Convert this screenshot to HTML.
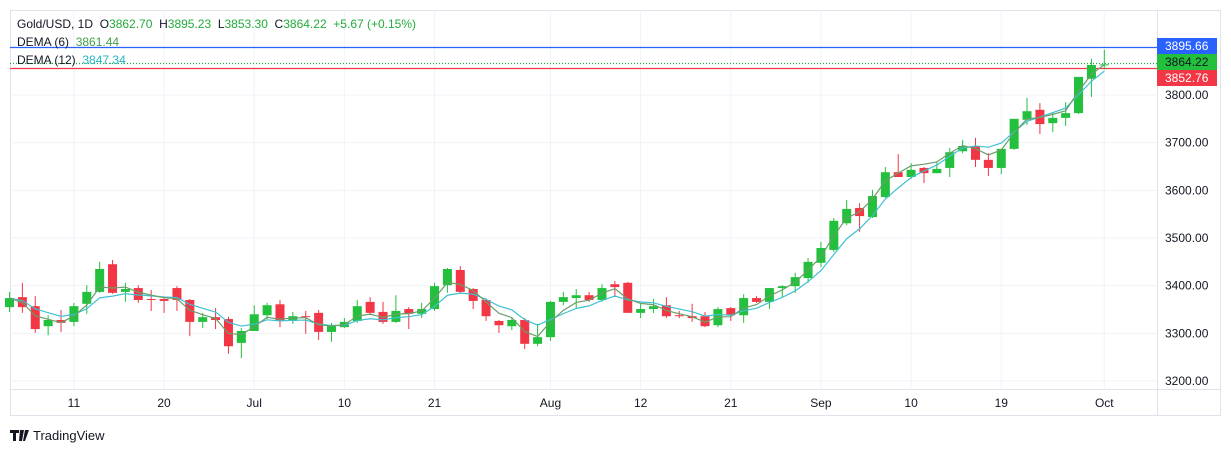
<!DOCTYPE html>
<html><head><meta charset="utf-8">
<style>
body{margin:0;background:#fff;font-family:"Liberation Sans",sans-serif;}
svg text{font-family:"Liberation Sans",sans-serif;white-space:pre;}
</style></head>
<body>
<svg id="chart" width="1231" height="452" xmlns="http://www.w3.org/2000/svg">
<rect x="0" y="0" width="1231" height="452" fill="#fff"/>
<rect x="10.5" y="10.5" width="1210" height="405" fill="none" stroke="#e0e3eb"/>
<g id="grid"></g>
<g id="lines"></g>
<g id="candles"></g>
<g id="ind"></g>
<line x1="1157.5" y1="10" x2="1157.5" y2="416" stroke="#e0e3eb"/>
<line x1="10" y1="389.5" x2="1221" y2="389.5" stroke="#e0e3eb"/>
<g id="yaxis"></g>
<g id="xaxis"></g>
<g id="tags"></g>
<g font-size="12">
<text x="17" y="28" fill="#131722">Gold/USD, 1D  O<tspan fill="#22ab3b">3862.70</tspan>  H<tspan fill="#22ab3b">3895.23</tspan>  L<tspan fill="#22ab3b">3853.30</tspan>  C<tspan fill="#22ab3b">3864.22</tspan>  <tspan fill="#22ab3b">+5.67 (+0.15%)</tspan></text>
<text x="17" y="46" fill="#131722">DEMA (6)  <tspan fill="#43a047">3861.44</tspan></text>
<text x="17" y="64" fill="#131722">DEMA (12)  <tspan fill="#26b6c6">3847.34</tspan></text>
</g>
<g>
<path d="M10 430h9v3h-3v8h-3v-8h-3z M20 430h4l-2 11h-3z M25 430h4l-4 11h-2z" fill="#131722"/>
<text x="33" y="440" font-size="13" fill="#131722">TradingView</text>
</g>
</svg>
<script>
const opens=[3355,3376,3357,3315,3328,3324,3362,3387,3445,3387,3395,3372,3372,3395,3370,3324,3334,3330,3280,3305,3338,3361,3326,3336,3343,3303,3313,3326,3366,3345,3324,3351,3341,3351,3401,3433,3393,3370,3326,3315,3328,3278,3292,3366,3374,3380,3370,3403,3406,3343,3351,3359,3338,3336,3336,3317,3353,3338,3374,3366,3395,3399,3416,3448,3475,3531,3563,3544,3586,3638,3628,3647,3636,3647,3682,3693,3664,3647,3687,3748,3769,3741,3752,3762,3834,3862.70];
const highs=[3387,3406,3378,3338,3349,3364,3401,3450,3454,3406,3401,3391,3376,3399,3372,3343,3353,3335,3311,3359,3364,3370,3345,3347,3349,3322,3332,3370,3376,3366,3380,3355,3364,3406,3437,3441,3395,3374,3328,3332,3332,3320,3368,3387,3393,3387,3403,3410,3408,3362,3372,3376,3347,3362,3345,3355,3355,3382,3378,3395,3401,3427,3458,3492,3542,3580,3573,3601,3649,3676,3657,3649,3659,3689,3706,3710,3678,3687,3750,3794,3783,3764,3785,3838,3876,3895.23];
const lows=[3345,3343,3301,3296,3303,3315,3341,3385,3383,3366,3364,3347,3343,3347,3294,3311,3309,3257,3248,3305,3330,3313,3320,3299,3286,3282,3311,3322,3338,3320,3322,3309,3332,3347,3385,3385,3351,3326,3301,3307,3267,3273,3284,3359,3353,3366,3366,3376,3343,3332,3343,3332,3332,3324,3313,3313,3326,3322,3364,3351,3376,3385,3406,3439,3471,3527,3513,3542,3584,3628,3624,3615,3636,3628,3678,3649,3630,3634,3685,3737,3718,3722,3735,3760,3796,3853.30];
const closes=[3374,3355,3309,3328,3322,3357,3387,3435,3385,3393,3370,3371,3368,3370,3324,3334,3328,3273,3305,3340,3359,3326,3336,3334,3303,3315,3324,3357,3343,3324,3347,3341,3351,3399,3435,3387,3368,3336,3317,3328,3278,3292,3366,3376,3380,3370,3395,3397,3343,3351,3357,3336,3336,3332,3315,3351,3338,3374,3366,3395,3399,3418,3450,3479,3536,3561,3546,3588,3638,3628,3643,3636,3645,3680,3693,3664,3647,3687,3750,3766,3739,3752,3762,3838,3863,3864.22];
const xLabels=["11","20","Jul","10","21","Aug","12","21","Sep","10","19","Oct"];
const xLabelIdx=[5,12,19,26,33,42,49,56,63,70,77,85];
const yTicks=[3200,3300,3400,3500,3600,3700,3800];
const lastPrices=[3895.66,3864.22,3852.76];
const NS="http://www.w3.org/2000/svg";
const X0=9.5,STEP=12.88;
function xs(i){return X0+STEP*i;}
function ys(p){return 95+(3800-p)*0.4767;}
function mk(tag,attrs,parent){const e=document.createElementNS(NS,tag);for(const k in attrs)e.setAttribute(k,attrs[k]);parent.appendChild(e);return e;}
const grid=document.getElementById('grid'),cg=document.getElementById('candles'),ind=document.getElementById('ind'),ya=document.getElementById('yaxis'),xa=document.getElementById('xaxis'),tags=document.getElementById('tags'),lines=document.getElementById('lines');
yTicks.forEach(t=>{
 const l=mk('line',{x1:10,x2:1157,y1:ys(t),y2:ys(t),stroke:'#f0f3fa'},grid);
 
 
 const tx=mk('text',{x:1165,y:ys(t)+4,'font-size':12,fill:'#131722'},ya);
 tx.textContent=t.toFixed(2);
 
 
});
xLabels.forEach((lb,k)=>{
 const x=xs(xLabelIdx[k]);
 const l=mk('line',{x1:x,x2:x,y1:10,y2:389,stroke:'#f0f3fa'},grid);
 
 
 const tx=mk('text',{x:x,y:407,'font-size':12,fill:'#131722','text-anchor':'middle'},xa);
 tx.textContent=lb;
 
 
});
const lc=['#2962ff','#22ab3b','#f23645'];
const ly=[47.5,63.5,68.5];
lastPrices.forEach((p,k)=>{
 const l=mk('line',{x1:10,x2:1157,y1:ly[k],y2:ly[k],stroke:lc[k],'stroke-width':1.2},lines);
 if(k===1)l.setAttribute('stroke-dasharray','1 2');
 
 
});
const tagY=[38,54,70],tagC=['#2962ff','#22c03c','#f23645'],tagT=['#fff','#131722','#fff'];
lastPrices.forEach((p,k)=>{
 const r=mk('rect',{x:1157,y:tagY[k],width:60,height:16,fill:tagC[k]},tags);
 
 
 const tx=mk('text',{x:1165,y:tagY[k]+12,'font-size':12,fill:tagT[k]},tags);
 tx.textContent=p.toFixed(2);
 
 
});
closes.forEach((c,i)=>{
 const o=opens[i],up=c>=o,col=up?'#22c03c':'#f23645',x=xs(i);
 const w=mk('line',{x1:x,x2:x,y1:ys(highs[i]),y2:ys(lows[i]),stroke:col,'stroke-width':1},cg);
 
 
 const top=ys(Math.max(o,c)),bot=ys(Math.min(o,c));
 const b=mk('rect',{x:x-4.5,y:top,width:9,height:Math.max(1,bot-top),fill:col},cg);
 
 
});
function ema(arr,n){const a=2/(n+1);const r=[];arr.forEach((v,i)=>r.push(i?a*v+(1-a)*r[i-1]:v));return r;}
function dema(arr,n){const e=ema(arr,n),ee=ema(e,n);return e.map((v,i)=>2*v-ee[i]);}
[[12,'#3ec1d3'],[6,'#6b9e6b']].forEach(([n,col])=>{
 const d=dema(closes,n);
 const pl=mk('polyline',{points:d.map((v,i)=>xs(i)+','+ys(v)).join(' '),fill:'none',stroke:col,'stroke-width':1.2},ind);
 
 
});
</script>
</body></html>
